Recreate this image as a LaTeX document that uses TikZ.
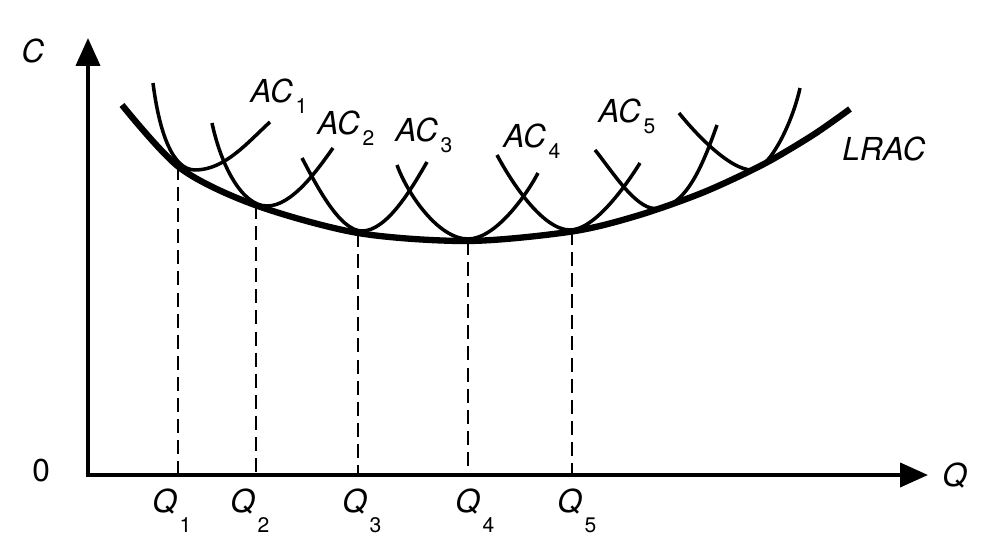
\documentclass[tikz,border=0pt]{standalone}
\usepackage{fontspec}
\setmainfont{TeX Gyre Heros}
\usetikzlibrary{arrows.meta,calc}

% lowered upright index after a label
\newcommand{\lowidx}[2]{\kern1.5pt\raisebox{-#1}{\fontsize{12}{12}\selectfont\upshape #2}}

\begin{document}
\begin{tikzpicture}[
    axis/.style={line width=2.3pt, {Triangle[length=5.6mm,width=4.8mm]}-{Triangle[length=5.6mm,width=4.8mm]}},
    lrac/.style={line width=3.6pt},
    sac/.style={line width=2pt},
    guide/.style={line width=1.1pt, dash pattern=on 8pt off 4pt},
    lbl/.style={font=\fontsize{18}{20}\selectfont\itshape, inner sep=0pt, anchor=base west}
]
    \useasboundingbox (-1.76,-1.22) rectangle (18.36,9.5);

    % --- Axes ---
    \coordinate (o) at (0,0);
    \coordinate (ytip) at (0,8.74);
    \coordinate (xtip) at (16.8,0);
    \draw[axis] (ytip) -- (o) -- (xtip);
    \node[lbl] (cost) at (-1.34,8.24) {C};
    \node[lbl, font=\fontsize{18}{20}\selectfont\upshape] (zero) at (-1.12,-0.14) {0};
    \node[lbl] (qty) at (17.08,-0.24) {Q};

    % --- Long run average cost ---
    \draw[lrac] plot[smooth] coordinates {(0.68,7.40) (1.84,6.14) (3.34,5.40) (5.40,4.84)
        (7.60,4.68) (9.68,4.87) (11.0,5.19) (12.3,5.65) (13.5,6.21) (14.5,6.80) (15.24,7.32)};
    \node[lbl] (lracl) at (15.08,6.28) {LRAC};

    % --- Short run curves ---
    \draw[sac] (1.30,7.84) .. controls +(0.12,-0.95) and +(-0.46,0) .. (2.14,6.10)
        .. controls +(0.6,0) and +(-0.44,-0.40) .. (3.64,7.06);
    \draw[sac] (2.48,7.04) .. controls +(0.18,-0.85) and +(-0.5,0) .. (3.58,5.38)
        .. controls +(0.5,0) and +(-0.32,-0.45) .. (4.90,6.54);
    \draw[sac] (4.28,6.34) .. controls +(0.28,-0.53) and +(-0.45,0) .. (5.48,4.88)
        .. controls +(0.5,0) and +(-0.30,-0.52) .. (6.78,6.26);
    \draw[sac] (6.18,6.20) .. controls +(0.20,-0.56) and +(-0.6,0) .. (7.60,4.72)
        .. controls +(0.55,0) and +(-0.23,-0.44) .. (9.00,6.04);
    \draw[sac] (8.18,6.40) .. controls +(0.28,-0.53) and +(-0.55,0) .. (9.64,4.90)
        .. controls +(0.5,0) and +(-0.26,-0.42) .. (11.04,6.24);
    \draw[sac] (10.14,6.50) .. controls +(0.32,-0.39) and +(-0.4,0) .. (11.34,5.33)
        .. controls +(0.6,0) and +(-0.3,-0.85) .. (12.58,7.00);
    \draw[sac] (11.82,7.24) .. controls +(0.31,-0.39) and +(-0.45,0) .. (13.28,6.10)
        .. controls +(0.35,0) and +(-0.15,-0.69) .. (14.24,7.74);

    \node[lbl] (ac1) at (3.24,7.44) {AC\lowidx{5.7pt}{1}};
    \node[lbl] (ac2) at (4.58,6.80) {AC\lowidx{5.7pt}{2}};
    \node[lbl] (ac3) at (6.14,6.66) {AC\lowidx{5.7pt}{3}};
    \node[lbl] (ac4) at (8.30,6.54) {AC\lowidx{5.7pt}{4}};
    \node[lbl] (ac5) at (10.20,7.04) {AC\lowidx{5.7pt}{5}};

    % --- Tangency points down to the output axis ---
    \foreach \i/\x/\y/\lx in {1/1.80/6.18/1.28, 2/3.36/5.40/2.84, 3/5.40/4.84/5.08,
                              4/7.60/4.68/7.34, 5/9.68/4.88/9.38} {
        \coordinate (t\i) at (\x,\y);
        \draw[guide] (t\i) -- (t\i |- o);
        \node[lbl] (q\i) at (\lx,-0.76) {Q\lowidx{11pt}{\i}};
    }
\end{tikzpicture}
\end{document}
